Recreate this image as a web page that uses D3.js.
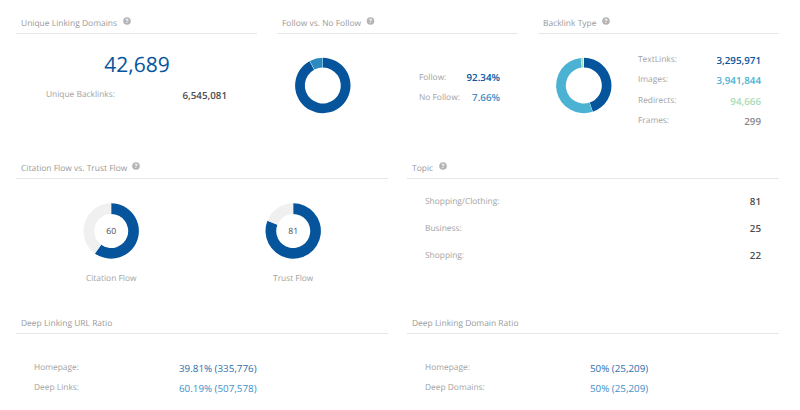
<!DOCTYPE html>
<html><head><meta charset="utf-8">
<script src="https://cdn.jsdelivr.net/npm/d3@7/dist/d3.min.js"></script>
<style>html,body{margin:0;padding:0;background:#fff}svg{display:block}text{font-family:"Open Sans",sans-serif;text-rendering:geometricPrecision}</style>
</head><body><svg id="c" width="800" height="410"></svg>
<script>
const followLabels = ["Follow:", "No Follow:"];
const followValues = [92.34, 7.66];
const backlinkLabels = ["TextLinks:", "Images:", "Redirects:", "Frames:"];
const backlinkValues = [3295971, 3941844, 94666, 299];
const flowLabels = ["Citation Flow", "Trust Flow"];
const flowValues = [60, 81];
const topicLabels = ["Shopping/Clothing:", "Business:", "Shopping:"];
const topicValues = [81, 25, 22];
const urlLabels = ["Homepage:", "Deep Links:"];
const urlPct = [39.81, 60.19];
const urlCounts = [335776, 507578];
const domainLabels = ["Homepage:", "Deep Domains:"];
const domainPct = [50, 50];
const domainCounts = [25209, 25209];
const uniqueDomains = 42689;
const uniqueBacklinks = 6545081;

const BLUE="#06559c", MID="#2b8abf", SKY="#4bb2d3", GREEN="#a8dcb5", LBL="#a3a3a3", DARK="#4d4d4d", RULE="#e6e6e6";
const svg=d3.select("#c"), fmt=d3.format(",");
function txt(x,y,s,size,fill,anchor,weight){
  return svg.append("text").attr("x",x).attr("y",y).attr("font-size",size).attr("fill",fill)
    .attr("text-anchor",anchor||"start").attr("font-weight",weight||400).text(s);
}
function header(title,x0,x1,y,iconX){
  txt(x0+5,y-8+.8,title,8.45,"#9a9a9a");
  svg.append("line").attr("x1",x0).attr("x2",x1).attr("y1",y+.5).attr("y2",y+.5).attr("stroke",RULE);
  if(iconX){
    svg.append("circle").attr("cx",iconX).attr("cy",y-12).attr("r",3.8).attr("fill","#b4b4b4");
    txt(iconX,y-9.8,"?",6,"#fff","middle",700);
  }
}
function donut(cx,cy,values,colors,padDeg,inner){
  const pie=d3.pie().sort(null).value(d=>d).padAngle(padDeg||0);
  const arc=d3.arc().innerRadius(inner||18).outerRadius(27.7);
  svg.append("g").attr("transform",`translate(${cx},${cy})`).selectAll("path")
    .data(pie(values)).join("path").attr("d",arc).attr("fill",(d,i)=>colors[i]);
}
header("Unique Linking Domains",16,257,33,127);
header("Follow vs. No Follow",277,518,33,370.5);
header("Backlink Type",538,779,33,606);
header("Citation Flow vs. Trust Flow",16,388,178,136);
header("Topic",407,779,178,443);
header("Deep Linking URL Ratio",16,388,333);
header("Deep Linking Domain Ratio",407,779,333);

txt(137,72,fmt(uniqueDomains),21,BLUE,"middle");
txt(46,97,"Unique Backlinks:",8.4,LBL);
txt(227,99,fmt(uniqueBacklinks),9.8,DARK,"end",600);

donut(322.8,85.5,followValues,[BLUE,MID],0.012);
const fY=d3.scalePoint().domain(followLabels).range([80,100]);
const fC=[BLUE,"#3f8fc6"];
followLabels.forEach((l,i)=>{
  txt(419,fY(l),l,8.4,LBL);
  txt(500,fY(l)+1,followValues[i].toFixed(2)+"%",9.8,fC[i],"end",600);
});

donut(583.8,85.5,backlinkValues,[BLUE,SKY,GREEN,"#ccc"],0.012);
const bY=d3.scalePoint().domain(backlinkLabels).range([62,123]);
const bC=[BLUE,SKY,GREEN,"#8a8a8a"];
backlinkLabels.forEach((l,i)=>{
  txt(638,bY(l),l,8.4,LBL);
  txt(761,bY(l)+2,fmt(backlinkValues[i]),9.8,bC[i],"end",600);
});

const flowX=d3.scalePoint().domain(flowLabels).range([111.2,293.2]);
flowLabels.forEach((l,i)=>{
  const x=flowX(l);
  donut(x,231,[flowValues[i],100-flowValues[i]],[BLUE,"#f0f0f0"],0,17);
  txt(x,234,flowValues[i],8.6,DARK,"middle");
  txt(x,281,l,8.4,LBL,"middle");
});

const tY=d3.scalePoint().domain(topicLabels).range([204,258]);
topicLabels.forEach((l,i)=>{
  txt(425,tY(l),l,8.4,LBL);
  txt(761,tY(l)+1,topicValues[i],9.8,DARK,"end",600);
});

const rowC=["#2f6fae","#4292c9"];
function ratio(labels,pct,counts,lx,vx){
  const y=d3.scalePoint().domain(labels).range([370,390]);
  labels.forEach((l,i)=>{
    txt(lx,y(l),l,8.4,LBL);
    txt(vx,y(l)+1.5,`${pct[i]}% (${fmt(counts[i])})`,9.8,rowC[i],"start",500);
  });
}
ratio(urlLabels,urlPct,urlCounts,34,179);
ratio(domainLabels,domainPct,domainCounts,425,590);
</script></body></html>
